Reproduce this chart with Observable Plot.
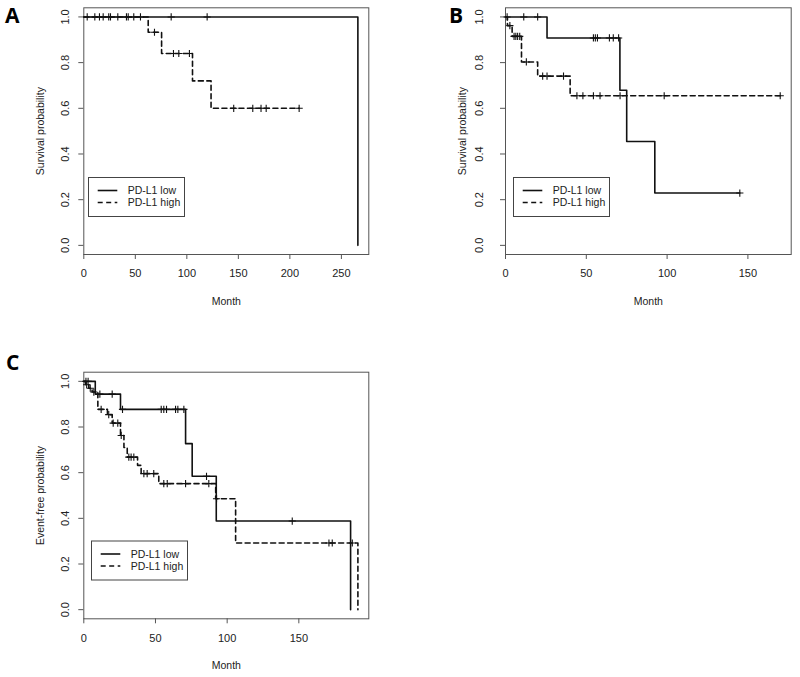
<!DOCTYPE html>
<html><head><meta charset="utf-8">
<script src="https://cdn.jsdelivr.net/npm/d3@7"></script>
<script src="https://cdn.jsdelivr.net/npm/@observablehq/plot@0.6"></script>
<style>
body{margin:0;background:#fff;}
#root{position:relative;width:800px;height:677px;overflow:hidden;background:#fff;font-family:"Liberation Sans",Arial,sans-serif;}
.panel{position:absolute;}
#overlay{position:absolute;left:0;top:0;pointer-events:none;}
</style></head><body><div id="root"></div>
<script>
// ---------- data ----------
const panelLetters = ["A", "B", "C"];
const yTitles = ["Survival probability", "Survival probability", "Event-free probability"];
const xTitle = "Month";
const seriesNames = ["PD-L1 low", "PD-L1 high"];
const yTicks = [0, 0.2, 0.4, 0.6, 0.8, 1.0];
const xTicksA = [0, 50, 100, 150, 200, 250];
const xTicksB = [0, 50, 100, 150];
const xTicksC = [0, 50, 100, 150];

// Panel A
const A_low_time = [0, 266];
const A_low_surv = [1, 0];
const A_low_censor = [3.3, 10.7, 18.8, 24.2, 33, 43.1, 55, 84.8, 119.7];
const A_high_time = [0, 62.5, 75.5, 105.5, 123.5, 209];
const A_high_surv = [1, 0.933, 0.84, 0.72, 0.60, 0.60];
const A_high_censor = [15.2, 25.9, 41.4, 48.5, 68.6, 87, 92.2, 102.5, 145.5, 164, 172, 177, 209];

// Panel B
const B_low_time = [0, 25.7, 70.8, 75, 92.4, 145];
const B_low_surv = [1, 0.908, 0.679, 0.455, 0.229, 0.229];
const B_low_censor = [1, 11.3, 19.9, 54.4, 55.6, 56.9, 64.3, 66.7, 70, 145];
const B_high_time = [0, 1.2, 4.1, 9.9, 19.9, 40, 170];
const B_high_surv = [1, 0.962, 0.915, 0.803, 0.741, 0.655, 0.655];
const B_high_censor = [2.7, 5.3, 6.4, 7.5, 8.8, 12.9, 23, 25.7, 35.9, 44.2, 47.9, 54.4, 58.5, 70.9, 98.2, 170];

// Panel C
const C_low_time = [0, 8, 25.6, 71, 75.6, 92.4, 186.1];
const C_low_surv = [1, 0.944, 0.877, 0.727, 0.584, 0.388, 0];
const C_low_censor = [1.5, 3, 11.2, 19.8, 27, 54, 55.8, 57.7, 64, 65.6, 69.8, 85.6, 145.4];
const C_high_time = [0, 1.2, 3.5, 5.8, 9.8, 16.5, 19.8, 25.6, 28, 30.3, 37.5, 40, 52.3, 92, 105.9, 191.2];
const C_high_surv = [1, 0.985, 0.97, 0.953, 0.877, 0.854, 0.817, 0.763, 0.71, 0.668, 0.632, 0.596, 0.552, 0.486, 0.292, 0];
const C_high_censor = [2, 4.5, 7, 12.1, 17.4, 20.5, 23.7, 26.1, 31.4, 33, 34.9, 41.9, 44.2, 48.8, 55.8, 58.2, 71, 87.2, 92.6, 171, 173.3, 187.3];

// ---------- helpers ----------
function steps(time, surv) { return time.map((t, i) => ({t, s: surv[i]})); }
function survAt(time, surv, t) {
  let s = surv[0];
  for (let i = 0; i < time.length; i++) if (time[i] <= t) s = surv[i];
  return s;
}
function censors(time, surv, cens) { return cens.map(t => ({t, s: survAt(time, surv, t)})); }
const plusSymbol = {
  draw(context, size) {
    const h = Math.sqrt(size / Math.PI);
    context.moveTo(-h, 0); context.lineTo(h, 0);
    context.moveTo(0, -h); context.lineTo(0, h);
  }
};
const FONT = '"Liberation Sans", Arial, sans-serif';

function makePanel(cfg) {
  const low = steps(cfg.lowT, cfg.lowS), high = steps(cfg.highT, cfg.highS);
  const cl = censors(cfg.lowT, cfg.lowS, cfg.lowC), ch = censors(cfg.highT, cfg.highS, cfg.highC);
  return Plot.plot({
    width: cfg.width, height: cfg.height,
    marginLeft: cfg.ml, marginRight: cfg.mr, marginTop: cfg.mt, marginBottom: cfg.mb,
    x: {domain: cfg.xDomain},
    y: {domain: [-0.04, 1.04]},
    style: {fontFamily: FONT, fontSize: "10.5px", color: "#222", background: "transparent"},
    marks: [
      Plot.frame({stroke: "#555", strokeWidth: 1}),
      Plot.axisX({ticks: cfg.xTicks, tickSize: 5, tickPadding: 10, tickFormat: d => String(d), stroke: "#555", fontSize: 11,
        label: null}),
      Plot.axisX({ticks: [], tickSize: 0, label: xTitle, labelAnchor: "center", labelOffset: 50, labelArrow: "none"}),
      Plot.axisY({ticks: yTicks, tickSize: 5, tickRotate: -90, tickPadding: cfg.yPad, tickFormat: d3.format(".1f"), stroke: "#555", fontSize: 11,
        label: null}),
      Plot.axisY({ticks: [], tickSize: 0, label: cfg.yTitle, labelAnchor: "center", labelOffset: 47, labelArrow: "none"}),
      Plot.line(low, {x: "t", y: "s", curve: "step-after", stroke: "#111", strokeWidth: 1.6}),
      Plot.line(high, {x: "t", y: "s", curve: "step-after", stroke: "#111", strokeWidth: 1.6, strokeDasharray: "5,3.5"}),
      Plot.dot(cl, {x: "t", y: "s", symbol: plusSymbol, r: 3.6, stroke: "#111", fill: "none", strokeWidth: 1.1}),
      Plot.dot(ch, {x: "t", y: "s", symbol: plusSymbol, r: 3.6, stroke: "#111", fill: "none", strokeWidth: 1.1})
    ]
  });
}

const root = document.getElementById("root");
function place(el, left, top) {
  el.classList.add("panel");
  el.style.left = left + "px"; el.style.top = top + "px";
  root.appendChild(el);
}

place(makePanel({width: 400, height: 320, ml: 83.3, mr: 31.7, mt: 7.3, mb: 66,
  xDomain: [0, 276.6], xTicks: xTicksA, yPad: 10, yTitle: yTitles[0],
  lowT: A_low_time, lowS: A_low_surv, lowC: A_low_censor,
  highT: A_high_time, highS: A_high_surv, highC: A_high_censor}), 0, 0);

place(makePanel({width: 400, height: 320, ml: 105, mr: 9.3, mt: 7.3, mb: 66,
  xDomain: [0, 176.8], xTicks: xTicksB, yPad: 18, yTitle: yTitles[1],
  lowT: B_low_time, lowS: B_low_surv, lowC: B_low_censor,
  highT: B_high_time, highS: B_high_surv, highC: B_high_censor}), 400, 0);

place(makePanel({width: 400, height: 357, ml: 83.3, mr: 31.7, mt: 51.7, mb: 58.7,
  xDomain: [0, 198.8], xTicks: xTicksC, yPad: 10, yTitle: yTitles[2],
  lowT: C_low_time, lowS: C_low_surv, lowC: C_low_censor,
  highT: C_high_time, highS: C_high_surv, highC: C_high_censor}), 0, 320);

// ---------- overlay: panel letters + legends ----------
const svg = d3.select(root).append("svg").attr("id", "overlay").attr("width", 800).attr("height", 677);
const letterPos = [[5, 23], [449, 23], [6, 370]];
panelLetters.forEach((L, i) => {
  svg.append("text").attr("x", letterPos[i][0]).attr("y", letterPos[i][1])
    .attr("font-family", '"Open Sans", "Liberation Sans", sans-serif').attr("font-weight", 700)
    .attr("font-size", 21).attr("fill", "#000").text(L);
});
const legendPos = [[88, 177], [513, 177], [91, 540.5]];
legendPos.forEach(([lx, ly]) => {
  const g = svg.append("g").attr("transform", `translate(${lx},${ly})`);
  g.append("rect").attr("x", 0.5).attr("y", 0.5).attr("width", 96).attr("height", 39)
    .attr("fill", "#fff").attr("stroke", "#444").attr("stroke-width", 1);
  seriesNames.forEach((name, j) => {
    const yy = 13.5 + j * 12;
    g.append("line").attr("x1", 9.7).attr("x2", 29.3).attr("y1", yy).attr("y2", yy)
      .attr("stroke", "#111").attr("stroke-width", 1.6)
      .attr("stroke-dasharray", j === 1 ? "5,3.5" : null);
    g.append("text").attr("x", 39.7).attr("y", yy + 3.8)
      .attr("font-family", FONT).attr("font-size", 10.5).attr("fill", "#222").text(name);
  });
});
</script>
</body></html>
